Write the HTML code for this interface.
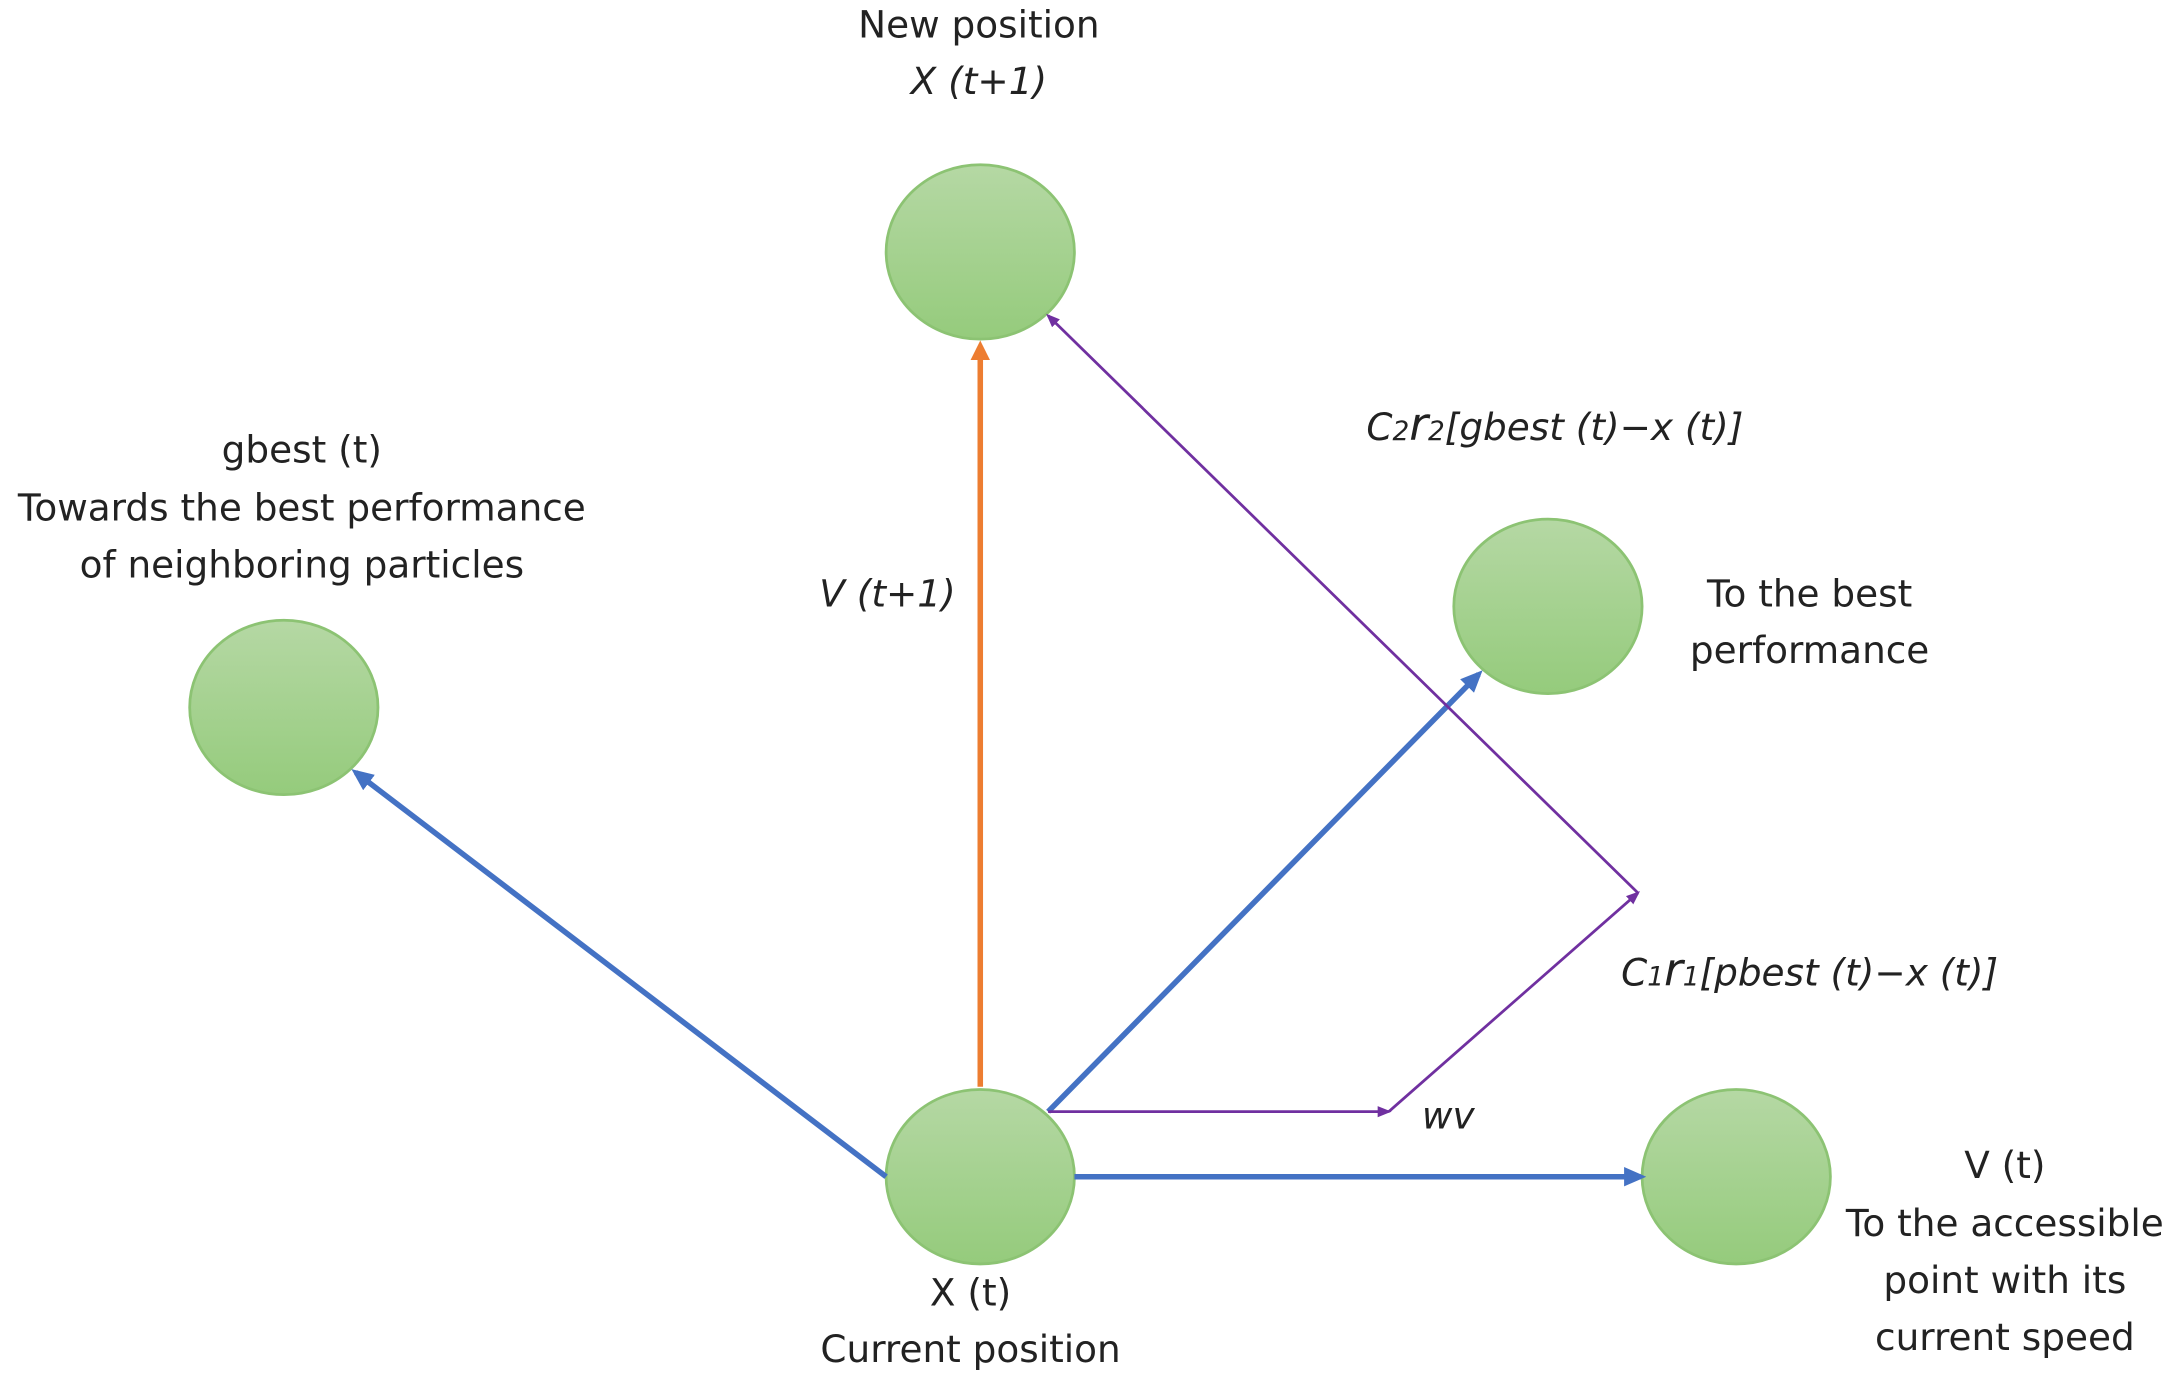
<!DOCTYPE html>
<html><head><meta charset="utf-8"><style>
html,body{margin:0;padding:0;background:#fff;width:2171px;height:1383px;overflow:hidden}
svg{display:block}
text{font-family:"DejaVu Sans","Liberation Sans",sans-serif;font-size:27px;fill:#222;text-anchor:middle}
.i{font-style:italic}
</style></head><body>
<svg width="2171" height="1383" viewBox="0 0 1568 999" preserveAspectRatio="none" xmlns="http://www.w3.org/2000/svg">
<defs>
<linearGradient id="g" x1="0" y1="0" x2="0" y2="1"><stop offset="0" stop-color="#b5d8a4"/><stop offset="1" stop-color="#95cb7c"/></linearGradient>
<marker id="ao" markerWidth="14" markerHeight="14" refX="10" refY="7" orient="auto" markerUnits="userSpaceOnUse"><path d="M0,0 L14,7 L0,14z" fill="#ed7d31"/></marker>
<marker id="ap" markerWidth="10" markerHeight="10" refX="8" refY="5" orient="auto" markerUnits="userSpaceOnUse"><path d="M0,1 L10,5 L0,9z" fill="#7030a0"/></marker>
<marker id="abl" markerWidth="16" markerHeight="14" refX="12" refY="7" orient="auto" markerUnits="userSpaceOnUse"><path d="M0,0 L16,7 L0,14z" fill="#4472c4"/></marker>
</defs>
<g fill="url(#g)" stroke="#8cc373" stroke-width="2">
<ellipse cx="708" cy="182" rx="68" ry="63"/>
<ellipse cx="205" cy="511" rx="68" ry="63"/>
<ellipse cx="1118" cy="438" rx="68" ry="63"/>
<ellipse cx="708" cy="850" rx="68" ry="63"/>
<ellipse cx="1254" cy="850" rx="68" ry="63"/>
</g>
<line x1="708" y1="785" x2="708" y2="250" stroke="#ed7d31" stroke-width="4" marker-end="url(#ao)"/>
<line x1="640" y1="850" x2="257" y2="558" stroke="#4472c4" stroke-width="4" marker-end="url(#abl)"/>
<line x1="757" y1="803" x2="1068" y2="487" stroke="#4472c4" stroke-width="4" marker-end="url(#abl)"/>
<line x1="776" y1="850" x2="1185" y2="850" stroke="#4472c4" stroke-width="4" marker-end="url(#abl)"/>
<line x1="757" y1="803" x2="1003" y2="803" stroke="#7030a0" stroke-width="2" marker-end="url(#ap)"/>
<line x1="1003" y1="803" x2="1183" y2="645" stroke="#7030a0" stroke-width="2" marker-end="url(#ap)"/>
<line x1="1183" y1="645" x2="757" y2="228" stroke="#7030a0" stroke-width="2" marker-end="url(#ap)"/>
<text x="707" y="27">New position</text>
<text x="707" y="68" class="i">X  (t+1)</text>
<text x="218" y="334">gbest  (t)</text>
<text x="218" y="376">Towards the best performance</text>
<text x="218" y="417">of neighboring particles</text>
<text x="641" y="438" class="i">V  (t+1)</text>
<text x="1123" y="318" class="i">C<tspan font-size="19">2</tspan><tspan font-size="33">r</tspan><tspan font-size="19">2</tspan>[gbest (t)−x (t)]</text>
<text x="1307" y="438">To the best</text>
<text x="1307" y="479">performance</text>
<text x="1307" y="712" class="i">C<tspan font-size="19">1</tspan><tspan font-size="33">r</tspan><tspan font-size="19">1</tspan>[pbest (t)−x (t)]</text>
<text x="1046" y="815" class="i">wv</text>
<text x="1448" y="851">V (t)</text>
<text x="1448" y="893">To the accessible</text>
<text x="1448" y="934">point with its</text>
<text x="1448" y="975">current speed</text>
<text x="701" y="943">X (t)</text>
<text x="701" y="984">Current position</text>
</svg>
</body></html>
